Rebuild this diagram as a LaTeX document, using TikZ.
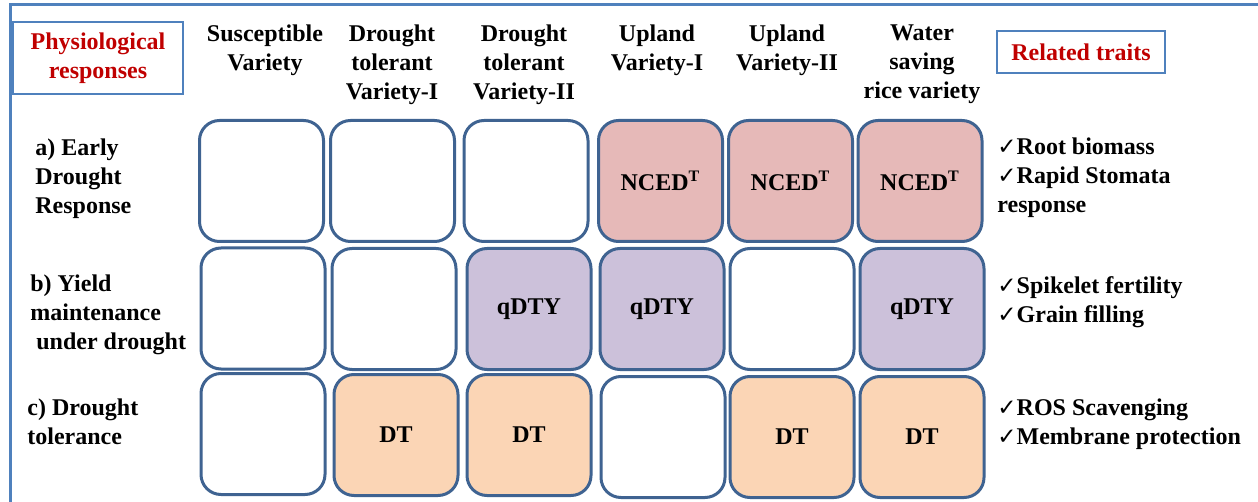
\documentclass[tikz,border=0pt]{standalone}
\usepackage{fontspec}
\setmainfont{Liberation Serif}
\newfontfamily\symfont{DejaVu Sans}
\usepackage{xcolor}
\usetikzlibrary{positioning}

\definecolor{frameblue}{HTML}{4F81BD}
\definecolor{cellblue}{HTML}{3F6391}
\definecolor{headred}{HTML}{C00000}
\definecolor{ncedpink}{HTML}{E6B9B8}
\definecolor{qdtypurple}{HTML}{CCC1DA}
\definecolor{dtpeach}{HTML}{FBD5B5}

\newcommand{\chk}{{\symfont\fontsize{11.5}{12}\selectfont ✓}}

\begin{document}
\begin{tikzpicture}[
		x=0.5pt, y=-0.5pt,
		every node/.style={font=\bfseries\fontsize{12}{14.5}\selectfont},
		cell/.style={rectangle, rounded corners=10pt, draw=cellblue, line width=1.5pt, minimum width=62pt, minimum height=60.5pt, inner sep=0pt},
		head/.style={align=center, anchor=north, inner sep=0pt},
		rowlabel/.style={align=left, anchor=north west, inner sep=0pt},
		titlebox/.style={rectangle, draw=frameblue, line width=1.2pt, text=headred, align=center}
		]
		\useasboundingbox (0,0) rectangle (1258,502);
		
		% frame
		\draw[frameblue, line width=1.5pt] (1258,5) -- (10,5) -- (10,502);
		
		% titles
		\node[titlebox, minimum width=85pt, minimum height=36pt] (physio) at (98,58) {Physiological\\responses};
		\node[titlebox, minimum width=84pt, minimum height=21pt] (traits) at (1081,52) {Related traits};
		
		% varieties
		\node[head] (sus) at (265,24) {Susceptible\\Variety};
		\node[head] (dt1) at (392,24) {Drought\\tolerant\\Variety-I};
		\node[head] (dt2) at (524,24) {Drought\\tolerant\\Variety-II};
		\node[head] (up1) at (657,24) {Upland\\Variety-I};
		\node[head] (up2) at (787,24) {Upland\\Variety-II};
		\node[head] (ws) at (922,24) {Water\\saving\\rice variety};
		
		% responses
		\node[rowlabel] (early) at (35,138) {a) Early\\Drought\\Response};
		\node[rowlabel] (yield) at (30,274) {b) Yield\\maintenance\\\ under drought};
		\node[rowlabel] (tol) at (27,398) {c) Drought\\tolerance};
		
		% a) early drought response
		\node[cell] (a1) at (261.5,181) {};
		\node[cell] (a2) at (392.5,181) {};
		\node[cell] (a3) at (526,181) {};
		\node[cell, fill=ncedpink] (a4) at (660.5,181) {NCED\textsuperscript{T}};
		\node[cell, fill=ncedpink] (a5) at (790.5,181) {NCED\textsuperscript{T}};
		\node[cell, fill=ncedpink] (a6) at (920,181) {NCED\textsuperscript{T}};
		
		% b) yield maintenance
		\node[cell] (b1) at (263,308.5) {};
		\node[cell] (b2) at (394,309) {};
		\node[cell, fill=qdtypurple] (b3) at (529,309) {qDTY};
		\node[cell, fill=qdtypurple] (b4) at (662,309) {qDTY};
		\node[cell] (b5) at (792,309) {};
		\node[cell, fill=qdtypurple] (b6) at (922,309) {qDTY};
		
		% c) drought tolerance
		\node[cell] (c1) at (263,434) {};
		\node[cell, fill=dtpeach] (c2) at (396,435) {DT};
		\node[cell, fill=dtpeach] (c3) at (529,435) {DT};
		\node[cell] (c4) at (663,437) {};
		\node[cell, fill=dtpeach] (c5) at (792,437) {DT};
		\node[cell, fill=dtpeach] (c6) at (922,437) {DT};
		
		% traits
		\node[rowlabel] (trA) at (997,137) {\chk Root biomass\\\chk Rapid Stomata\\response};
		\node[rowlabel] (trB) at (997,276) {\chk Spikelet fertility\\\chk Grain filling};
		\node[rowlabel] (trC) at (997,398) {\chk ROS Scavenging\\\chk Membrane protection};
	\end{tikzpicture}
\end{document}
